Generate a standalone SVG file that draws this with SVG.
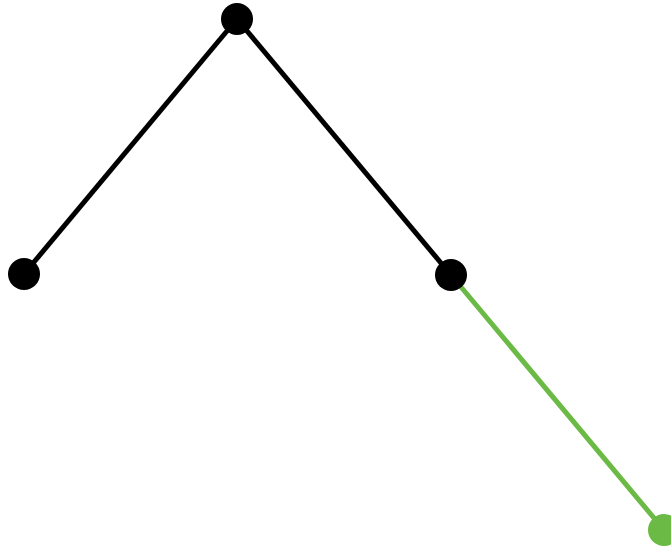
<svg xmlns="http://www.w3.org/2000/svg" width="671" height="549" viewBox="0 0 671 549">
<style>
.e{stroke:#000;stroke-width:5;fill:none}
.g{stroke:#6bba45;stroke-width:5;fill:none}
.n{fill:#000}
.ng{fill:#6bba45}
</style>
<rect width="671" height="549" fill="#fff"/>
<g id="connectors">
<line class="e" x1="237" y1="19" x2="24" y2="274"/>
<line class="e" x1="237" y1="19" x2="451" y2="275"/>
<line class="g" x1="451" y1="275" x2="664" y2="530"/>
</g>
<g id="n1"><circle class="n" cx="237" cy="19" r="16"/></g>
<g id="n2"><circle class="n" cx="24" cy="274" r="16"/></g>
<g id="n3"><circle class="n" cx="451" cy="275" r="16"/></g>
<g id="n4"><circle class="ng" cx="664" cy="530" r="16"/></g>
</svg>
